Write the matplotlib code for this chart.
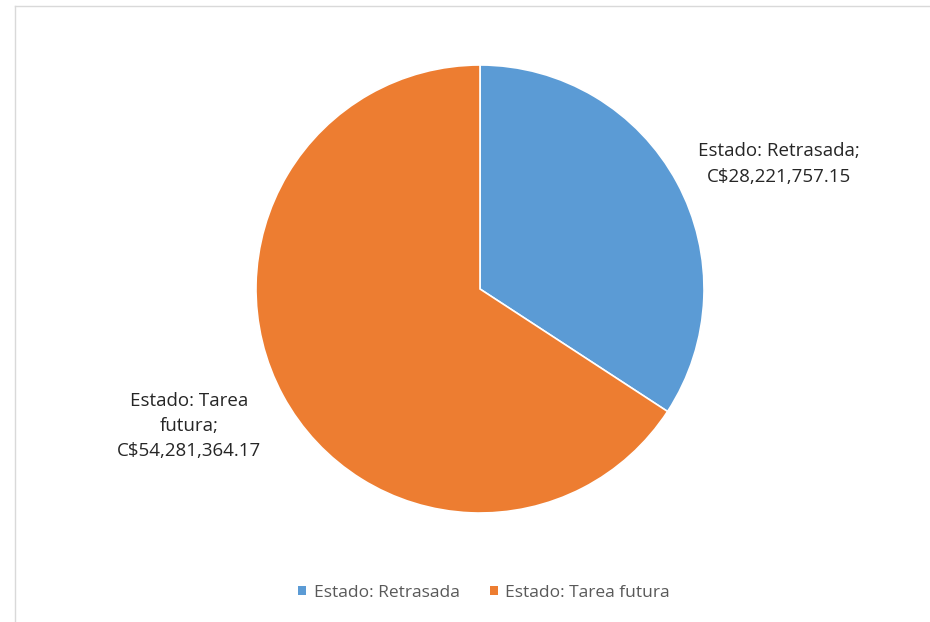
import matplotlib
matplotlib.use("Agg")
import matplotlib.pyplot as plt
from matplotlib.lines import Line2D
from matplotlib.patches import Patch

categories = ["Estado: Retrasada", "Estado: Tarea futura"]
values = [28221757.15, 54281364.17]
colors = ["#5B9BD5", "#ED7D31"]
data_labels = ["Estado: Retrasada;\nC$28,221,757.15", "Estado: Tarea\nfutura;\nC$54,281,364.17"]

W, H = 930, 622
fig = plt.figure(figsize=(W / 100, H / 100), dpi=100)
fig.patch.set_facecolor("white")

# chart border (left and top visible)
fig.add_artist(Line2D([15 / W, 15 / W], [0, 1 - 6 / H], transform=fig.transFigure, color="#D9D9D9", lw=1))
fig.add_artist(Line2D([15 / W, 1], [1 - 6 / H, 1 - 6 / H], transform=fig.transFigure, color="#D9D9D9", lw=1))

cx, cy, r = 480, 289, 224
ax = fig.add_axes([(cx - r) / W, 1 - (cy + r) / H, 2 * r / W, 2 * r / H])
wedges, _ = ax.pie(values, colors=colors, startangle=90, counterclock=False,
                   wedgeprops=dict(edgecolor="white", linewidth=1.2), radius=1)
ax.set_xlim(-1, 1)
ax.set_ylim(-1, 1)
ax.set_aspect("equal")
ax.axis("off")

font = "Open Sans"
fig.text(779 / W, 1 - 164 / H, data_labels[0], ha="center", va="center",
         fontsize=13.5, family=font, color="#262626", linespacing=1.55)
fig.text(189 / W, 1 - 426 / H, data_labels[1], ha="center", va="center",
         fontsize=13.5, family=font, color="#262626", linespacing=1.48)

handles = [Patch(facecolor=c, edgecolor="none") for c in colors]
fig.legend(handles, categories, loc="center", bbox_to_anchor=(484 / W, 1 - 593 / H),
           ncol=2, frameon=False, prop={"family": font, "size": 12.5},
           labelcolor="#595959", handlelength=0.45, handleheight=0.45,
           handletextpad=0.45, columnspacing=1.75)

fig.savefig("out.png", dpi=100, facecolor="white")
